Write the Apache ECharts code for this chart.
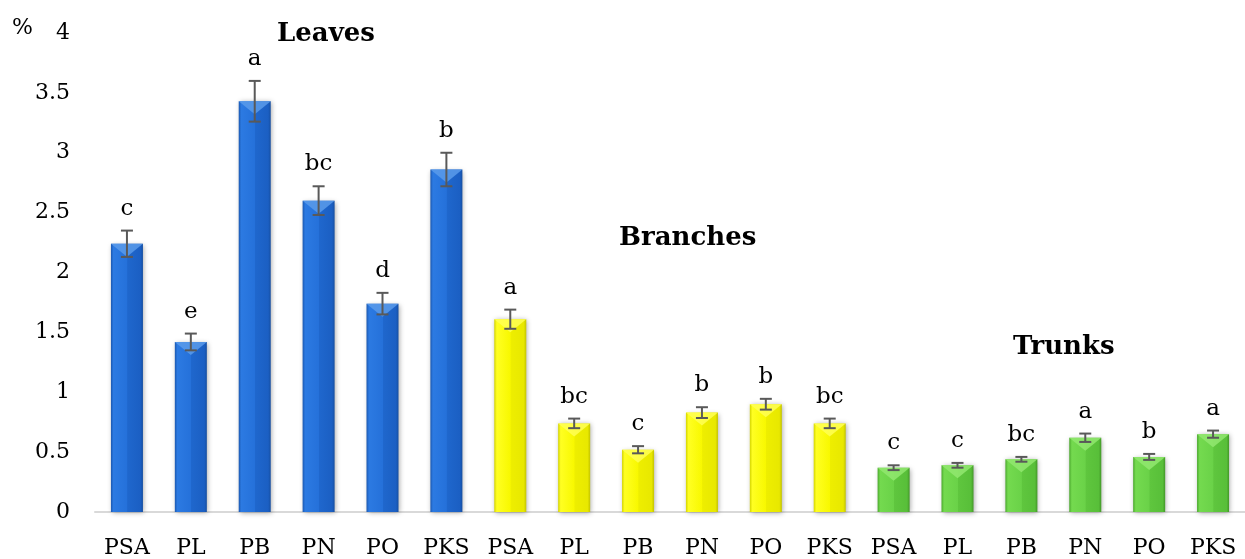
<!DOCTYPE html>
<html>
<head>
<meta charset="utf-8">
<script src="https://cdn.jsdelivr.net/npm/echarts@6/dist/echarts.min.js"></script>
<style>
  html, body { margin: 0; padding: 0; background: #fff; }
  #chart { width: 1245px; height: 559px; }
</style>
</head>
<body>
<div id="chart"></div>
<script>
// Sample labels repeated for each plant part
const samples = ['PSA', 'PL', 'PB', 'PN', 'PO', 'PKS'];
const categories = samples.concat(samples, samples);

// Content (%) per plant part, with standard errors and significance letters
const leaves = [2.24, 1.42, 3.43, 2.60, 1.74, 2.86];
const leavesErr = [0.11, 0.07, 0.17, 0.12, 0.09, 0.14];
const leavesLetters = ['c', 'e', 'a', 'bc', 'd', 'b'];

const branches = [1.61, 0.74, 0.52, 0.83, 0.90, 0.74];
const branchesErr = [0.08, 0.04, 0.03, 0.045, 0.045, 0.04];
const branchesLetters = ['a', 'bc', 'c', 'b', 'b', 'bc'];

const trunks = [0.37, 0.39, 0.44, 0.62, 0.46, 0.65];
const trunksErr = [0.02, 0.02, 0.02, 0.035, 0.025, 0.03];
const trunksLetters = ['c', 'c', 'bc', 'a', 'b', 'a'];

const yTicks = [0, 0.5, 1, 1.5, 2, 2.5, 3, 3.5, 4];

const SERIF = '"DejaVu Serif", "Liberation Serif", serif';

function barGradient(c) {
  return new echarts.graphic.LinearGradient(0, 0, 1, 0, [
    { offset: 0, color: c[0] },
    { offset: 0.08, color: c[1] },
    { offset: 0.5, color: c[2] },
    { offset: 0.52, color: c[3] },
    { offset: 0.92, color: c[4] },
    { offset: 1, color: c[5] }
  ]);
}

const palettes = [
  { grad: ['#1B58B0', '#2C7AE2', '#2571DA', '#1F67CD', '#1B5FC3', '#164FA2'], bevel: '#5B9BEA' },
  { grad: ['#D4D400', '#FFFF22', '#F8F800', '#EEEE00', '#E8E800', '#C4C400'], bevel: '#FFFF55' },
  { grad: ['#4AA82D', '#74DA4F', '#6AD248', '#5FC63E', '#58BF39', '#439828'], bevel: '#92E870' }
];

const groups = [
  { values: leaves, err: leavesErr, letters: leavesLetters },
  { values: branches, err: branchesErr, letters: branchesLetters },
  { values: trunks, err: trunksErr, letters: trunksLetters }
];

const barData = [];
const overlayData = [];
groups.forEach((g, gi) => {
  g.values.forEach((v, i) => {
    const idx = gi * samples.length + i;
    barData.push({
      value: v,
      itemStyle: {
        color: barGradient(palettes[gi].grad),
        shadowColor: 'rgba(0,0,0,0.35)',
        shadowBlur: 5,
        shadowOffsetX: 1,
        shadowOffsetY: 1
      }
    });
    overlayData.push([idx, v, g.err[i], gi, g.letters[i]]);
  });
});

const BAR_W = 32;

function renderOverlay(params, api) {
  const idx = api.value(0);
  const v = api.value(1);
  const e = api.value(2);
  const gi = api.value(3);
  const letter = overlayData[params.dataIndex][4];
  const top = api.coord([idx, v]);
  const hi = api.coord([idx, v + e]);
  const lo = api.coord([idx, v - e]);
  const x = top[0];
  const half = BAR_W / 2;
  const cap = 6;
  const errStyle = { stroke: '#595959', lineWidth: 2 };
  return {
    type: 'group',
    children: [
      {
        type: 'polygon',
        shape: { points: [[x - half, top[1]], [x + half, top[1]], [x, top[1] + 13]] },
        style: { fill: palettes[gi].bevel, opacity: 0.85 }
      },
      { type: 'line', shape: { x1: x, y1: hi[1], x2: x, y2: lo[1] }, style: errStyle },
      { type: 'line', shape: { x1: x - cap, y1: hi[1], x2: x + cap, y2: hi[1] }, style: errStyle },
      { type: 'line', shape: { x1: x - cap, y1: lo[1], x2: x + cap, y2: lo[1] }, style: errStyle },
      {
        type: 'text',
        x: x,
        y: hi[1] - 22,
        style: {
          text: letter,
          fill: '#000',
          font: '23px ' + SERIF,
          align: 'center',
          verticalAlign: 'middle'
        }
      }
    ]
  };
}

const chart = echarts.init(document.getElementById('chart'), null, { renderer: 'canvas' });

chart.setOption({
  animation: false,
  backgroundColor: '#ffffff',
  grid: { left: 95, right: -9, top: 33, bottom: 46, containLabel: false },
  xAxis: {
    type: 'category',
    data: categories,
    axisLine: { show: true, lineStyle: { color: '#D9D9D9', width: 2 } },
    axisTick: { show: false },
    axisLabel: { color: '#000', fontFamily: SERIF, fontSize: 22, margin: 25, interval: 0 }
  },
  yAxis: {
    type: 'value',
    min: yTicks[0],
    max: yTicks[yTicks.length - 1],
    interval: 0.5,
    axisLine: { show: false },
    axisTick: { show: false },
    splitLine: { show: false },
    axisLabel: { color: '#000', fontFamily: SERIF, fontSize: 22, margin: 25 }
  },
  graphic: [
    { type: 'text', left: 12, top: 17, style: { text: '%', font: '22px ' + SERIF, fill: '#000' } },
    { type: 'text', left: 277, top: 21, style: { text: 'Leaves', font: 'bold 26px ' + SERIF, fill: '#000' } },
    { type: 'text', left: 619, top: 225, style: { text: 'Branches', font: 'bold 26px ' + SERIF, fill: '#000' } },
    { type: 'text', left: 1013, top: 334, style: { text: 'Trunks', font: 'bold 26px ' + SERIF, fill: '#000' } }
  ],
  series: [
    {
      type: 'bar',
      data: barData,
      barWidth: BAR_W,
      z: 2
    },
    {
      type: 'custom',
      data: overlayData.map(d => d.slice(0, 4)),
      renderItem: renderOverlay,
      z: 3
    }
  ]
});
</script>
</body>
</html>
